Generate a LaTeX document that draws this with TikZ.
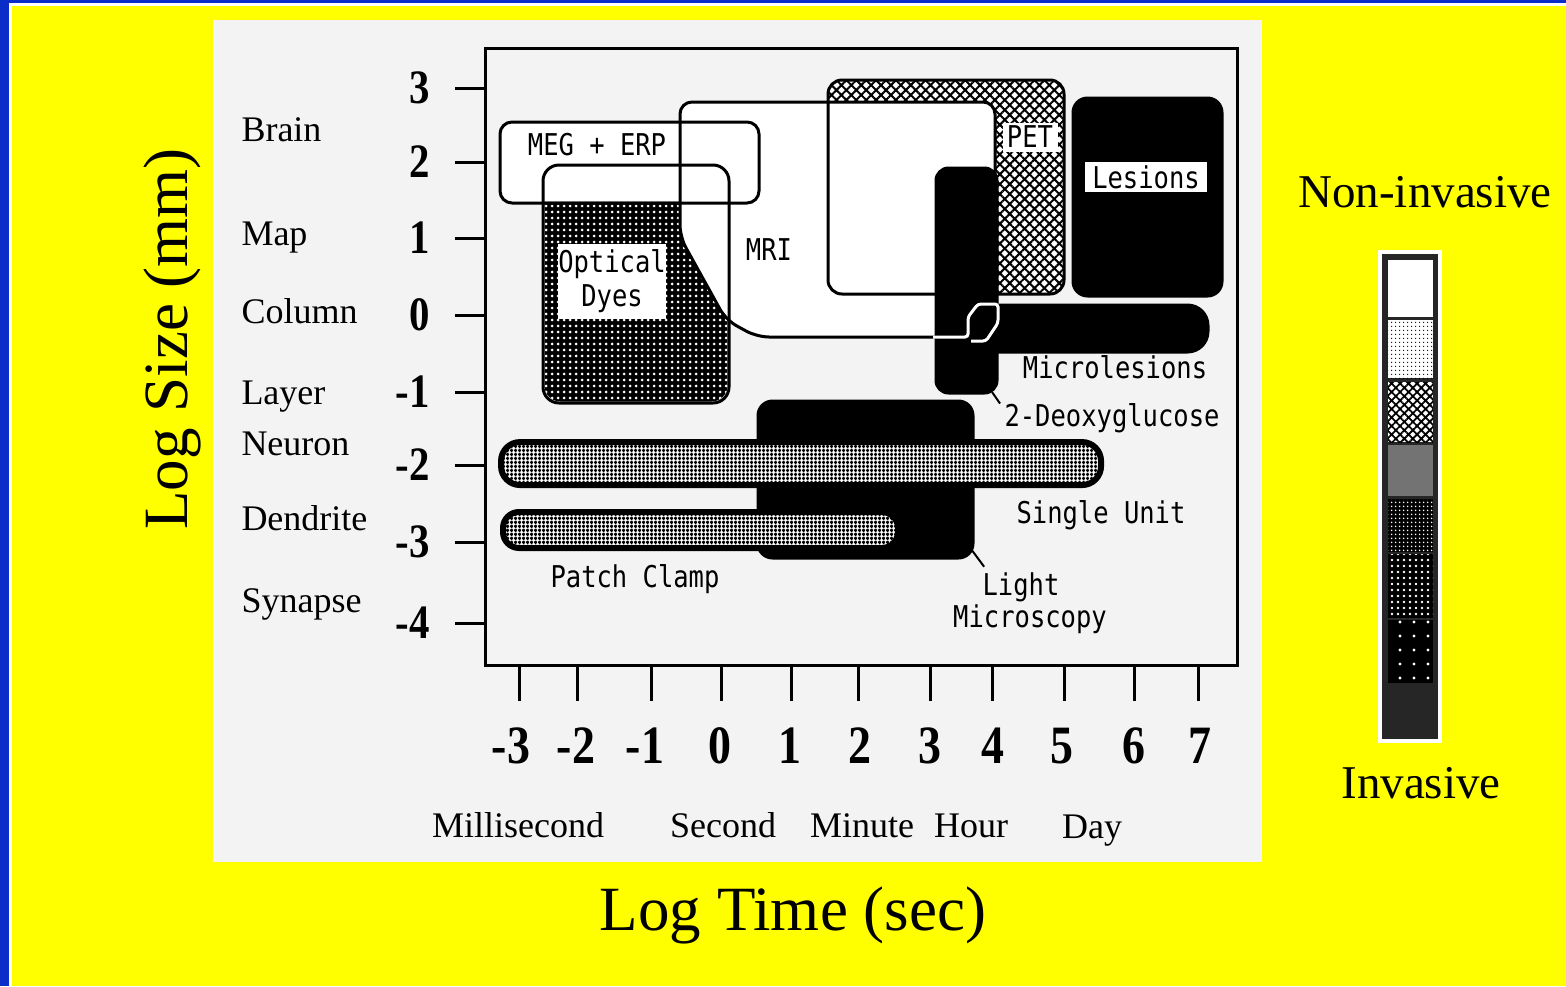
\documentclass[tikz,border=0pt]{standalone}
\usepackage{fontspec}
\setmainfont{Liberation Serif}
\newfontfamily\monofont[FakeStretch=0.85]{DejaVu Sans Mono}
\newfontfamily\numfont[FakeStretch=0.85]{Liberation Serif}
\usepackage{tikz}
\usetikzlibrary{patterns.meta}

\definecolor{slideblue}{RGB}{10,45,200}
\definecolor{slideyellow}{RGB}{255,255,0}
\definecolor{paper}{RGB}{243,243,243}

\begin{document}
\begin{tikzpicture}[x=1pt,y=-1pt,line width=3pt]
    \tikzstyle{box}=[rectangle,anchor=north west,inner sep=0pt,rounded corners=14pt]
    \tikzstyle{black box}=[box,fill=black]
    \tikzstyle{dot box}=[box,preaction={fill=black},pattern={Dots[distance=6pt,radius=1.5pt]},pattern color=white]
    \tikzstyle{hatch box}=[box,preaction={fill=white},pattern={Hatch[angle=45,distance=7pt,line width=2pt]},pattern color=black]
    \tikzstyle{grid bar}=[box,draw,line width=6pt,preaction={fill=white},pattern={Hatch[angle=0,distance=4pt,line width=2.1pt]},pattern color=black,rounded corners=19pt]
    \tikzstyle{tag}=[font=\monofont\fontsize{30}{34}\selectfont,inner sep=0pt,anchor=base]
    \tikzstyle{white tag}=[tag,fill=white,anchor=center]
    \tikzstyle{level name}=[font=\fontsize{36}{40}\selectfont,inner sep=0pt,anchor=base west]
    \tikzstyle{time name}=[font=\fontsize{36}{40}\selectfont,inner sep=0pt,anchor=base]
    \tikzstyle{ynum}=[font=\numfont\bfseries\fontsize{48}{50}\selectfont,inner sep=0pt,anchor=east]
    \tikzstyle{xnum}=[font=\numfont\bfseries\fontsize{54}{56}\selectfont,inner sep=0pt,anchor=base]
    \tikzstyle{axis title}=[font=\fontsize{63}{70}\selectfont,inner sep=0pt,anchor=base]
    \tikzstyle{side note}=[font=\fontsize{47}{50}\selectfont,inner sep=0pt,anchor=base]

    \useasboundingbox (0,0) rectangle (1566,986);

    % Draw the slide background
    \fill[slideblue] (0,0) rectangle (1566,986);
    \fill[white] (9,3) rectangle (1566,986);
    \fill[slideyellow] (12,6) rectangle (1566,986);
    \fill[paper] (213,20) rectangle (1262,862);

    % Draw the frame and the ticks
    \draw (485,48) rectangle (1237,665);
    \foreach \v / \y in {3/88,2/162,1/238,0/315,-1/392,-2/465,-3/542,-4/623} {
        \draw (455,\y) -- (485,\y);
        \node[ynum] (Y\v) at (431,\y) {\v};
    }
    \foreach \v / \x / \lx in {-3/519/511,-2/577/576,-1/651/645,0/721/720,1/791/790,2/858/860,3/930/930,4/992/993,5/1064/1062,6/1134/1134,7/1198/1200} {
        \draw (\x,665) -- (\x,701);
        \node[xnum] (X\v) at (\lx,763) {\v};
    }

    % Name the sizes and the times
    \foreach \name / \y in {Brain/141,Map/245,Column/323,Layer/404,Neuron/455,Dendrite/530,Synapse/612}
        \node[level name] (\name) at (240,\y) {\name};
    \foreach \name / \x in {Millisecond/518,Second/723,Minute/862,Hour/971}
        \node[time name] (\name) at (\x,837) {\name};
    \node[time name] (Day) at (1092,838) {Day};

    % Annotate the axes
    \node[axis title,rotate=90] (ylab) at (187,339) {Log Size (mm)};
    \node[axis title] (xlab) at (793,930) {Log Time (sec)};

    % Draw the methods, back to front
    \node[hatch box,minimum width=234pt,minimum height=212pt] (PET) at (828,80) {};
    \node[dot box,minimum width=183pt,minimum height=235pt,rounded corners=16pt] (Opt) at (543,165) {};
    \node[box,fill=white,minimum width=256pt,minimum height=78pt,rounded corners=12pt] (MEG) at (500,122) {};
    \draw[fill=white,rounded corners=12pt] (680,237) -- (680,102) -- (995,102) -- (995,337)
        -- (757,337) -- (726,320) -- (680,237) -- cycle;
    \draw[rounded corners=14pt] (PET.north west) rectangle (PET.south east);
    \draw[rounded corners=16pt] (Opt.north west) rectangle (Opt.south east);
    \draw[rounded corners=12pt] (MEG.north west) rectangle (MEG.south east);

    \node[black box,minimum width=152pt,minimum height=201pt,rounded corners=16pt] (Les) at (1070,95) {};
    \node[black box,minimum width=64pt,minimum height=228pt] (DG) at (933,165) {};
    \node[black box,minimum width=245pt,minimum height=50pt,rounded corners=22pt] (Micro) at (963,302) {};
    \draw[white,rounded corners=3pt] (933,337) -- (968,337) -- (968,317) -- (978,304) -- (998,304)
        -- (998,323) -- (986,341) -- (971,341);

    \node[black box,minimum width=218pt,minimum height=160pt,rounded corners=16pt] (LM) at (755,398) {};
    \node[grid bar,minimum width=600pt,minimum height=43pt] (SU) at (500,441) {};
    \node[grid bar,minimum width=395pt,minimum height=36pt,rounded corners=16pt] (PC) at (500,509) {};

    % Label the methods
    \node[tag] (MEG-lab) at (597,155) {MEG + ERP};
    \node[white tag,align=center,minimum width=105pt,minimum height=75pt] (Opt-lab) at (612,281) {Optical\\Dyes};
    \node[tag] (MRI-lab) at (769,260) {MRI};
    \node[white tag,minimum width=55pt,minimum height=29pt] (PET-lab) at (1030,137) {PET};
    \node[white tag,minimum width=122pt,minimum height=30pt] (Les-lab) at (1146,177) {Lesions};
    \node[tag] (Micro-lab) at (1115,378) {Microlesions};
    \node[tag] (DG-lab) at (1112,426) {2-Deoxyglucose};
    \node[tag] (SU-lab) at (1101,523) {Single Unit};
    \node[tag] (PC-lab) at (635,587) {Patch Clamp};
    \node[tag] (LM-lab) at (1021,595) {Light};
    \node[tag] (LM-lab2) at (1030,627) {Microscopy};
    \draw[line width=2pt] ([shift={(-8,-4)}]DG.south east) -- ([shift={(-3,2)}]DG-lab.north west);
    \draw[line width=2pt] ([shift={(-5,-12)}]LM.south east) -- ([shift={(3,-4)}]LM-lab.north west);

    % Draw the invasiveness scale
    \fill[white] (1378,250) rectangle (1442,743);
    \fill[black!85] (1382,254) rectangle (1438,739);
    \fill[white] (1388,260) rectangle (1433,317);
    \path[preaction={fill=white},pattern={Dots[distance=4pt,radius=0.9pt]},pattern color=black] (1388,320) rectangle (1433,378);
    \path[preaction={fill=white},pattern={Hatch[angle=45,distance=6pt,line width=1.8pt]},pattern color=black] (1388,382) rectangle (1433,442);
    \fill[black!55] (1388,445) rectangle (1433,496);
    \path[preaction={fill=black},pattern={Dots[distance=4pt,radius=1pt]},pattern color=white] (1388,499) rectangle (1433,552);
    \path[preaction={fill=black},pattern={Dots[distance=6pt,radius=1.4pt]},pattern color=white] (1388,554) rectangle (1433,618);
    \path[preaction={fill=black},pattern={Dots[distance=14pt,radius=1.6pt]},pattern color=white] (1388,620) rectangle (1433,683);
    \node[side note] (top-note) at (1425,207) {Non-invasive};
    \node[side note] (bottom-note) at (1421,798) {Invasive};
\end{tikzpicture}
\end{document}
